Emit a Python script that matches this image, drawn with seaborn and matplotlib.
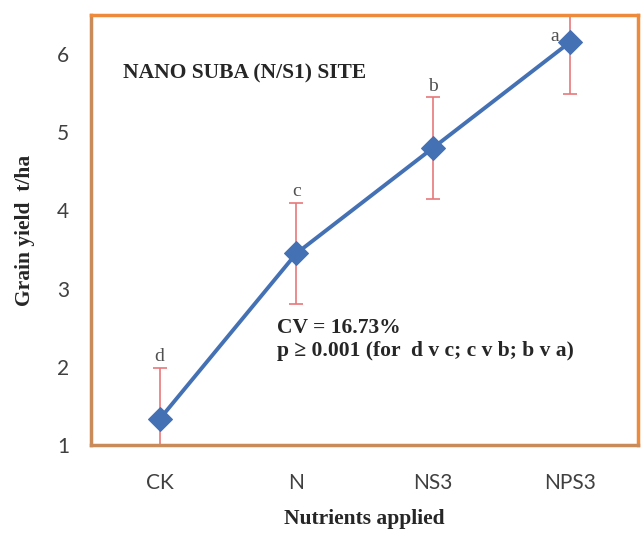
import matplotlib
matplotlib.use("Agg")
import matplotlib.pyplot as plt
import seaborn as sns
import pandas as pd

categories = ["CK", "N", "NS3", "NPS3"]
grain_yield = [1.33, 3.45, 4.80, 6.15]
yield_err = [0.66, 0.65, 0.65, 0.66]
letters = ["d", "c", "b", "a"]
y_ticks = [1, 2, 3, 4, 5, 6]

df = pd.DataFrame({"Nutrients": categories, "Yield": grain_yield, "Err": yield_err})

sns.set_style("white")
plt.rcParams["font.family"] = ["DejaVu Sans"]

fig = plt.figure(figsize=(6.42, 5.33), dpi=100)
ax = fig.add_axes([0.142, 0.165, 0.852, 0.807])

orange = "#EE8A3C"
blue = "#4470B4"
errc = "#E8787A"

ax.errorbar(range(len(categories)), df["Yield"], yerr=df["Err"], fmt="none",
            ecolor=errc, elinewidth=1.2, capsize=5, capthick=1.2, zorder=2)
sns.lineplot(data=df, x="Nutrients", y="Yield", sort=False, marker="D",
             markersize=12, color=blue, linewidth=2.8, markeredgecolor=blue,
             ax=ax, zorder=3)

ax.set_xlim(-0.5, 3.5)
ax.set_ylim(1, 6.5)
ax.set_yticks(y_ticks)
ax.set_xticks(range(len(categories)))
ax.set_xticklabels(categories)

tickfont = ["Lato", "DejaVu Sans"]
for lab in ax.get_xticklabels() + ax.get_yticklabels():
    lab.set_family(tickfont)
    lab.set_fontsize(15)
    lab.set_color("#404040")
ax.tick_params(axis="y", length=0, pad=16)
ax.tick_params(axis="x", length=0, pad=20)
# minor ticks between categories
ax.set_xticks([0.5, 1.5, 2.5], minor=True)
ax.tick_params(axis="x", which="minor", length=5, color="#D9A57A", direction="out")
ax.set_yticks([1, 2, 3, 4, 5, 6], minor=True)
ax.tick_params(axis="y", which="minor", length=4, color="#D9A57A", direction="out")

for side in ["top", "right"]:
    ax.spines[side].set_color(orange)
    ax.spines[side].set_linewidth(2.5)
for side in ["left", "bottom"]:
    ax.spines[side].set_color("#C98B5A")
    ax.spines[side].set_linewidth(2.5)

serif = ["Liberation Serif", "DejaVu Serif"]
ax.set_xlabel("Nutrients applied", family=serif, fontweight="bold", fontsize=15.5, labelpad=12)
ax.set_ylabel("Grain yield  t/ha", family=serif, fontweight="bold", fontsize=15.5, labelpad=16)

for i, (v, e, l) in enumerate(zip(grain_yield, yield_err, letters)):
    if i == 3:
        ax.text(i - 0.11, v + 0.08, l, ha="center", va="center", fontsize=14,
                color="#505050", family=serif)
    else:
        ax.text(i, v + e + 0.14, l, ha="center", va="center", fontsize=14,
                color="#505050", family=serif)

ax.text(0.058, 0.865, "NANO SUBA (N/S1) SITE", transform=ax.transAxes,
        family=serif, fontweight="bold", fontsize=15.5, va="center", ha="left")
ax.text(0.34, 0.272, "CV = 16.73%", transform=ax.transAxes,
        family=serif, fontweight="bold", fontsize=15.5, va="center", ha="left")
ax.text(0.34, 0.218, "p \u2265 0.001 (for  d v c; c v b; b v a)", transform=ax.transAxes,
        family=serif, fontweight="bold", fontsize=15.5, va="center", ha="left")

fig.savefig("out.png", dpi=100)
